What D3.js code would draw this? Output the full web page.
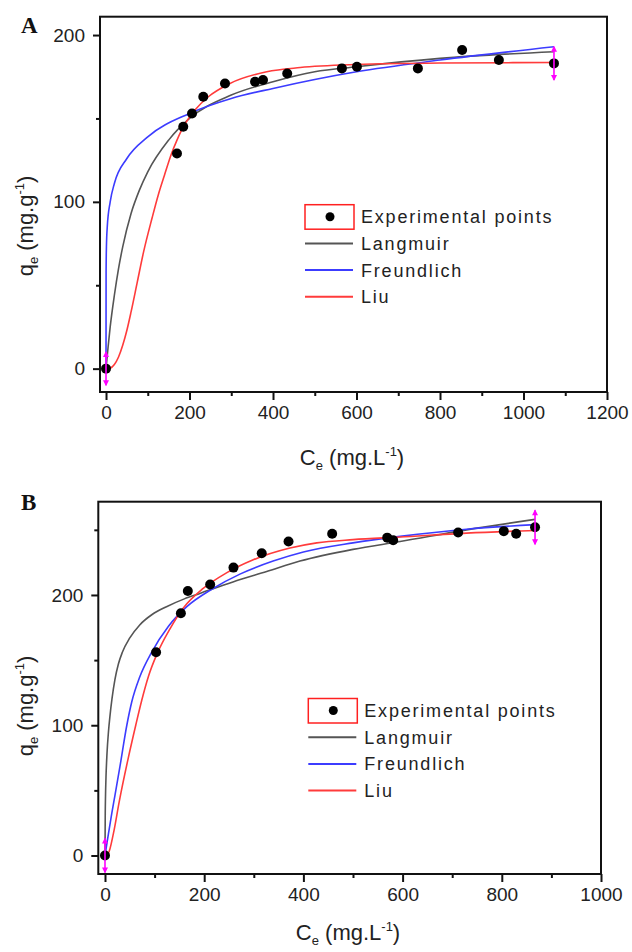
<!DOCTYPE html>
<html><head><meta charset="utf-8">
<script src="https://cdn.jsdelivr.net/npm/d3@7"></script>
<style>body{margin:0;background:#fff}svg{display:block}</style>
</head><body><svg id="c" width="632" height="952"></svg>
<script>
// ---------- Panel A data ----------
const aExpC = [0,170,185,206,233,285,357,376,434,565,601,747,853,941,1073];
const aExpQ = [0,129,145,153,163,171,172,173,177,180,181,180,191,185,183];
const aErrIdx = [0,14];
const aErrVal = [10,10];
const aLangC = [0,5,10,20,30,40,60,80,100,150,200,300,400,500,600,800,1073];
const aLangQ = [0,13,25,44,60,73,93,107,118,137,150,164,172,178,181,186,190];
const aFreuC = [0,0.2,1,3,10,20,50,100,200,300,400,600,800,1073];
const aFreuQ = [0,58,73,85,100,111,126,139,153,162,168,178,185,193];
const aLiuC = [0,10,20,30,40,50,60,75,90,110,125,140,157,170,181,195,213,245,297,385,465,600,800,1073];
const aLiuQ = [0,0.3,2.5,7,14,23,34,52,70,90,104,116,129,137,143,149,155,163,171,178,180.5,182.3,183.2,183.5];
const aXMajor = [0,200,400,600,800,1000,1200];
const aXMinor = [100,300,500,700,900,1100];
const aYMajor = [0,100,200];
const aYMinor = [50,150];

// ---------- Panel B data ----------
const bExpC = [0,103,153,167,212,259,316,370,458,569,581,712,804,829,867];
const bExpQ = [0,156,186,203,208,221,232,241,247,244,242,248,249,247,252];
const bErrIdx = [0,14];
const bErrVal = [13,13];
const bLangC = [0,0.5,1,2,4,7,10,14,20,27,35,50,70,95,124,160,190,258,326,393,500,595,729,867];
const bLangQ = [0,32,45,60,78,95,107,120,135,147,156,167,177,185,191,197,201,210,218,226,235,241,250,258];
const bFreuC = [0,5,13.5,20,30,44,54,70,94,128,165,218,272,339,400,500,595,729,867];
const bFreuQ = [0,12,32,46,68,100,118,137,156,176,191,205,216,226,233,240,245,250.5,254];
const bLiuC = [0,7,17,29,47,62,74,88,104,131,158,198,245,299,373,427,500,595,729,867];
const bLiuQ = [0,2,17,42,75,100,119,138,154,174,190,205,217,227,236,240,242.5,244.5,247.5,249.5];
const bXMajor = [0,200,400,600,800,1000];
const bXMinor = [100,300,500,700,900];
const bYMajor = [0,100,200];
const bYMinor = [50,150,250];

const seriesNames = ["Experimental points","Langmuir","Freundlich","Liu"];
const seriesColors = ["#000000","#555555","#3c3cff","#ff3b3b"];

const FONT = "'Liberation Sans', Arial, sans-serif";
const svg = d3.select("#c");
const zip = (a,b) => a.map((v,i)=>[v,b[i]]);

function panel(cfg){
  const g = svg.append("g");
  const x = d3.scaleLinear().domain(cfg.xDomain).range(cfg.xRange);
  const y = d3.scaleLinear().domain(cfg.yDomain).range(cfg.yRange);
  const [x0,x1] = cfg.xRange, [y0,y1] = cfg.yRange;

  const xa = g.append("g").attr("transform",`translate(0,${y0})`)
    .call(d3.axisBottom(x).tickValues(cfg.xMajor).tickSize(8).tickPadding(6).tickFormat(d3.format("d")));
  const xm = g.append("g").attr("transform",`translate(0,${y0})`)
    .call(d3.axisBottom(x).tickValues(cfg.xMinor).tickSize(4).tickFormat(""));
  const ya = g.append("g").attr("transform",`translate(${x0},0)`)
    .call(d3.axisLeft(y).tickValues(cfg.yMajor).tickSize(7).tickPadding(8).tickFormat(d3.format("d")));
  const ym = g.append("g").attr("transform",`translate(${x0},0)`)
    .call(d3.axisLeft(y).tickValues(cfg.yMinor).tickSize(4).tickFormat(""));
  [xa,xm,ya,ym].forEach(a=>{
    a.select(".domain").remove();
    a.selectAll("line").attr("stroke","#111").attr("stroke-width",2);
    a.selectAll("text").attr("font-family",FONT).attr("font-size",19).attr("fill","#222");
  });

  const clipId = "clip"+cfg.id;
  g.append("clipPath").attr("id",clipId).append("rect")
    .attr("x",x0).attr("y",y1).attr("width",x1-x0).attr("height",y0-y1);

  const line = d3.line().x(d=>x(d[0])).y(d=>y(d[1])).curve(d3.curveMonotoneX);
  const cg = g.append("g").attr("clip-path",`url(#${clipId})`);
  cfg.curves.forEach((c,i)=>{
    cg.append("path").datum(zip(c[0],c[1])).attr("d",line)
      .attr("fill","none").attr("stroke",seriesColors[i+1]).attr("stroke-width",1.6);
  });

  g.append("g").selectAll("circle").data(zip(cfg.expC,cfg.expQ)).join("circle")
    .attr("cx",d=>x(d[0])).attr("cy",d=>y(d[1])).attr("r",5).attr("fill","#000");

  cfg.errIdx.forEach((idx,k)=>{
    const cx = x(cfg.expC[idx]), q = cfg.expQ[idx], e = cfg.errVal[k];
    const yt = y(q+e), yb = y(q-e);
    g.append("line").attr("x1",cx).attr("x2",cx).attr("y1",yt).attr("y2",yb)
      .attr("stroke","#ff00ff").attr("stroke-width",1.6);
    g.append("path").attr("d",`M${cx-3},${yt+5}L${cx},${yt-1}L${cx+3},${yt+5}Z`).attr("fill","#ff00ff");
    g.append("path").attr("d",`M${cx-3},${yb-5}L${cx},${yb+1}L${cx+3},${yb-5}Z`).attr("fill","#ff00ff");
  });

  g.append("rect").attr("x",x0).attr("y",y1).attr("width",x1-x0).attr("height",y0-y1)
    .attr("fill","none").attr("stroke","#111").attr("stroke-width",2);

  const L = cfg.legend, rowH = 26.7;
  const lg = g.append("g").attr("transform",`translate(${L.x},${L.y})`);
  seriesNames.forEach((name,i)=>{
    const cy = i*rowH;
    if(i===0){
      lg.append("rect").attr("x",0).attr("y",cy-12).attr("width",49).attr("height",24.5)
        .attr("fill","none").attr("stroke","#ff2020").attr("stroke-width",1.5);
      lg.append("circle").attr("cx",25).attr("cy",cy).attr("r",4.5).attr("fill","#000");
    } else {
      lg.append("line").attr("x1",0).attr("x2",48).attr("y1",cy).attr("y2",cy)
        .attr("stroke",seriesColors[i]).attr("stroke-width",2);
    }
    lg.append("text").attr("x",56).attr("y",cy+6.5).attr("font-family",FONT)
      .attr("font-size",18).attr("letter-spacing","1.8px").attr("fill","#222").text(name);
  });

  g.append("text").attr("x",cfg.letter[1]).attr("y",cfg.letter[2])
    .attr("font-family","'Liberation Serif','Times New Roman',serif").attr("font-weight","bold")
    .attr("font-size",23).attr("fill","#111").text(cfg.letter[0]);

  const xl = g.append("text").attr("x",cfg.xlabel[0]).attr("y",cfg.xlabel[1])
    .attr("text-anchor","middle").attr("font-family",FONT).attr("font-size",22).attr("fill","#222");
  xl.append("tspan").text("C");
  xl.append("tspan").attr("font-size",13).attr("dy",5).text("e");
  xl.append("tspan").attr("dy",-5).text(" (mg.L");
  xl.append("tspan").attr("font-size",13).attr("dy",-9).text("-1");
  xl.append("tspan").attr("dy",9).text(")");

  const yl = g.append("text").attr("transform",`translate(${cfg.ylabel[0]},${cfg.ylabel[1]}) rotate(-90)`)
    .attr("text-anchor","middle").attr("font-family",FONT).attr("font-size",22).attr("fill","#222");
  yl.append("tspan").text("q");
  yl.append("tspan").attr("font-size",13).attr("dy",5).text("e");
  yl.append("tspan").attr("dy",-5).text(" (mg.g");
  yl.append("tspan").attr("font-size",13).attr("dy",-9).text("-1");
  yl.append("tspan").attr("dy",9).text(")");
}

panel({
  id:"A",
  xDomain:[-14.4,1200], xRange:[100,607],
  yDomain:[-14,211], yRange:[392,16.7],
  xMajor:aXMajor, xMinor:aXMinor, yMajor:aYMajor, yMinor:aYMinor,
  expC:aExpC, expQ:aExpQ, errIdx:aErrIdx, errVal:aErrVal,
  curves:[[aLangC,aLangQ],[aFreuC,aFreuQ],[aLiuC,aLiuQ]],
  legend:{x:305,y:216.7},
  letter:["A",21,33],
  xlabel:[352,465], ylabel:[33,226]
});
panel({
  id:"B",
  xDomain:[-13.5,1000], xRange:[98.3,601],
  yDomain:[-14.2,271.6], yRange:[874,501.7],
  xMajor:bXMajor, xMinor:bXMinor, yMajor:bYMajor, yMinor:bYMinor,
  expC:bExpC, expQ:bExpQ, errIdx:bErrIdx, errVal:bErrVal,
  curves:[[bLangC,bLangQ],[bFreuC,bFreuQ],[bLiuC,bLiuQ]],
  legend:{x:308.3,y:710.5},
  letter:["B",21,510],
  xlabel:[348,940], ylabel:[33,706]
});
</script></body></html>
